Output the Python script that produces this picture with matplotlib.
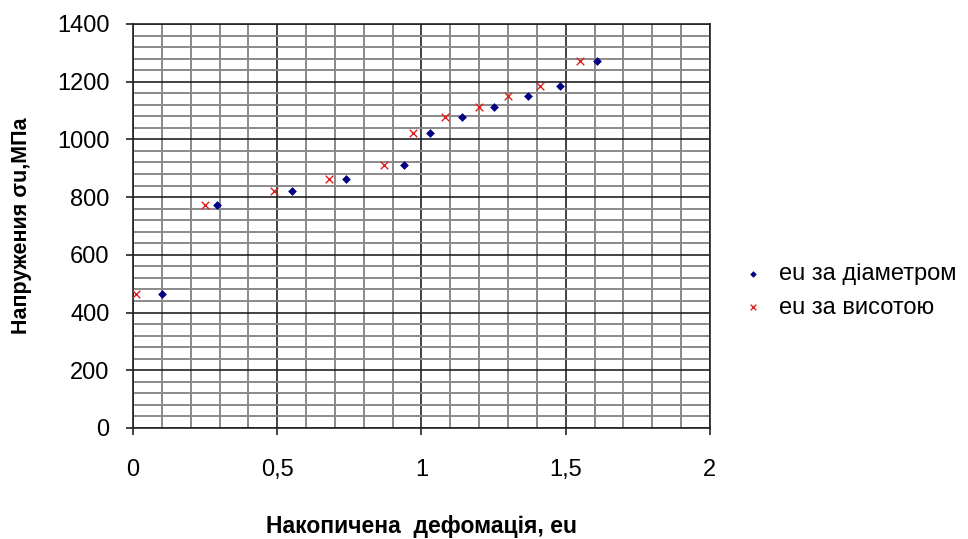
import numpy as np
import matplotlib.pyplot as plt
from matplotlib.ticker import MultipleLocator, FuncFormatter

# --- data ---
eu_diam = [0.10, 0.29, 0.55, 0.74, 0.94, 1.03, 1.14, 1.25, 1.37, 1.48, 1.61]
eu_height = [0.01, 0.25, 0.49, 0.68, 0.87, 0.97, 1.08, 1.20, 1.30, 1.41, 1.55]
sigma = [465, 773, 822, 862, 913, 1021, 1076, 1111, 1151, 1184, 1271]

LABEL_DIAM = 'eu за діаметром'
LABEL_HEIGHT = 'eu за висотою'

plt.rcParams['font.family'] = ['Liberation Sans', 'DejaVu Sans']

fig = plt.figure(figsize=(9.68, 5.39), dpi=100)
ax = fig.add_axes([0.1374, 0.206, 0.596, 0.7495])

ax.scatter(eu_diam, sigma, marker='D', s=20, color='#000080', linewidths=0,
           label=LABEL_DIAM, zorder=3)
ax.scatter(eu_height, sigma, marker='x', s=30, color='#e02020', linewidths=1.0,
           label=LABEL_HEIGHT, zorder=3)

ax.set_xlim(0, 2)
ax.set_ylim(0, 1400)
ax.xaxis.set_major_locator(MultipleLocator(0.5))
ax.xaxis.set_minor_locator(MultipleLocator(0.1))
ax.yaxis.set_major_locator(MultipleLocator(200))
ax.yaxis.set_minor_locator(MultipleLocator(40))
ax.xaxis.set_major_formatter(FuncFormatter(lambda v, p: f'{v:g}'.replace('.', ',')))

ax.grid(which='minor', color='#8a8a8a', linewidth=1.4)
ax.grid(which='major', color='#222222', linewidth=1.2)
ax.set_axisbelow(True)
for s in ax.spines.values():
    s.set_color('#222222')
    s.set_linewidth(1.2)

ax.tick_params(which='major', direction='out', length=5, width=1.2, color='#222222',
               labelsize=17)
ax.tick_params(axis='x', pad=17)
ax.tick_params(axis='y', pad=12)
ax.tick_params(which='minor', length=0)

ax.set_ylabel('Напружения σu,МПа', fontsize=15.5, fontweight='bold', labelpad=18)
ax.set_xlabel('Накопичена  дефомація, eu', fontsize=16.5, fontweight='bold', labelpad=25)

ax.legend(loc='center left', bbox_to_anchor=(1.038, 0.34), borderaxespad=0,
          frameon=False, fontsize=17, handletextpad=0.6, labelspacing=0.5,
          markerscale=0.75, handlelength=1.0)

fig.savefig('out.png', dpi=100)
